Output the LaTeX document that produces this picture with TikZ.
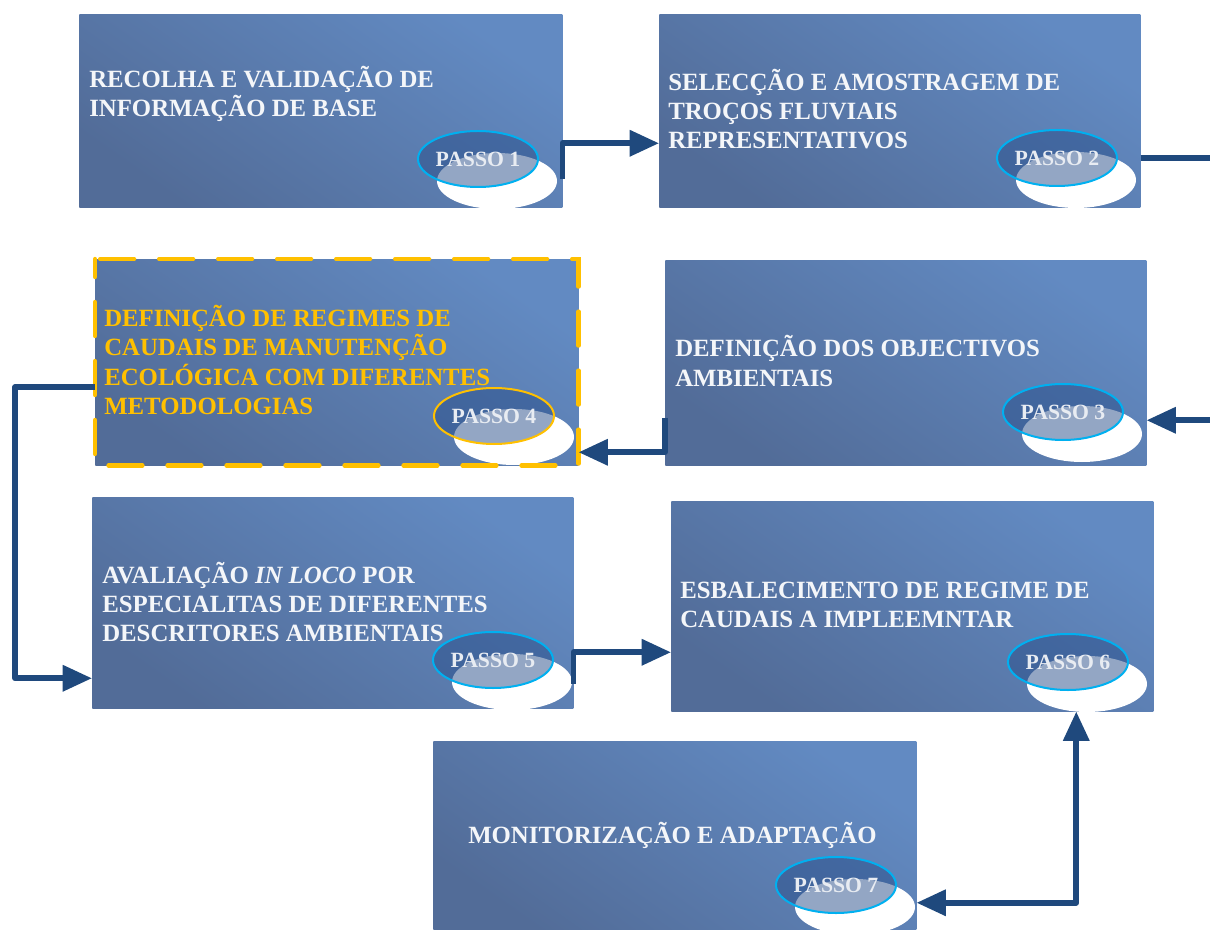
\documentclass[tikz,border=0pt]{standalone}
\usepackage{fontspec}
\setmainfont{Liberation Serif}
\usetikzlibrary{arrows.meta,calc,shapes.geometric}

\definecolor{boxlight}{RGB}{98,138,194}
\definecolor{boxdark}{RGB}{82,108,152}
\definecolor{flowblue}{RGB}{31,73,125}
\definecolor{ringcyan}{RGB}{0,176,240}
\definecolor{ringfill}{RGB}{40,78,138}
\definecolor{gold}{RGB}{255,192,0}
\definecolor{passotext}{RGB}{232,236,242}
\definecolor{labeltext}{RGB}{244,246,249}

\tikzset{
  stepbox/.style={rectangle, anchor=north west, inner sep=0pt, draw=none,
    top color=boxlight, bottom color=boxdark, shading angle=-35},
  steptext/.style={anchor=west, align=left, inner sep=0pt, text=labeltext,
    font=\fontsize{18.6}{22}\selectfont\bfseries},
  passo/.style={ellipse, inner sep=0pt, minimum width=90pt, minimum height=42pt,
    draw=ringcyan, line width=1.5pt, fill=ringfill, fill opacity=0.5, text opacity=1,
    text=passotext, font=\fontsize{16.3}{18}\selectfont\bfseries},
  flowtip/.tip={Triangle[length=22pt,width=19pt]},
  flow/.style={draw=flowblue, line width=4.2pt, line join=round, -flowtip},
}

% white ellipse under each step label, cut to its box
\newcommand{\shadowdisc}[2]{%
  \begin{scope}
    \clip (#1.south west) rectangle (#1.north east);
    \fill[white] #2 ellipse [x radius=45pt, y radius=21pt];
  \end{scope}}

\begin{document}
\begin{tikzpicture}[x=0.75pt,y=-0.75pt]
\useasboundingbox (0,0) rectangle (1210,930);
\clip (0,0) rectangle (1210,930);

% step boxes
\node[stepbox, minimum width=362.25pt, minimum height=144.75pt] (b1) at (79,14) {};
\node[stepbox, minimum width=360.75pt, minimum height=144.75pt] (b2) at (659,14) {};
\node[stepbox, minimum width=360.75pt, minimum height=153.75pt] (b3) at (665,260) {};
\node[stepbox, minimum width=362.25pt, minimum height=154.5pt] (b4) at (95,259) {};
\node[stepbox, minimum width=360.75pt, minimum height=158.25pt] (b5) at (92,497) {};
\node[stepbox, minimum width=361.5pt, minimum height=157.5pt] (b6) at (671,501) {};
\node[stepbox, minimum width=362.25pt, minimum height=142.5pt] (b7) at (433,741) {};

% step labels
\shadowdisc{b1}{(497,181)}
\node[passo] (p1) at (478,159) {PASSO 1};
\shadowdisc{b2}{(1076,180)}
\node[passo] (p2) at (1057,158) {PASSO 2};
\shadowdisc{b3}{(1082,434)}
\node[passo] (p3) at (1063,412) {PASSO 3};
\shadowdisc{b4}{(514,437)}
\node[passo, draw=gold] (p4) at (494,416) {PASSO 4};
\shadowdisc{b5}{(512,682)}
\node[passo] (p5) at (493,660) {PASSO 5};
\shadowdisc{b6}{(1087,684)}
\node[passo] (p6) at (1068,662) {PASSO 6};
\shadowdisc{b7}{(855,907)}
\node[passo] (p7) at (836,885) {PASSO 7};

% highlighted step
\draw[gold, line width=3.2pt, line cap=round, dash pattern=on 25.5pt off 18.75pt, dash phase=12pt]
  (b4.north west) rectangle (b4.south east);

% step texts
\node[steptext] (t1) at (89,94) {RECOLHA E VALIDAÇÃO DE\\INFORMAÇÃO DE BASE};
\node[steptext] (t2) at (668,109) {SELECÇÃO E AMOSTRAGEM DE\\TROÇOS FLUVIAIS\\REPRESENTATIVOS};
\node[steptext] (t3) at (675,361) {DEFINIÇÃO DOS OBJECTIVOS\\AMBIENTAIS};
\node[steptext, text=gold] (t4) at (104,360) {DEFINIÇÃO DE REGIMES DE\\CAUDAIS DE MANUTENÇÃO\\ECOLÓGICA COM DIFERENTES\\METODOLOGIAS};
\node[steptext] (t5) at (102,602) {AVALIAÇÃO \textit{IN LOCO} POR\\ESPECIALITAS DE DIFERENTES\\DESCRITORES AMBIENTAIS};
\node[steptext] (t6) at (680,605) {ESBALECIMENTO DE REGIME DE\\CAUDAIS A IMPLEEMNTAR};
\node[steptext] (t7) at (468,835) {MONITORIZAÇÃO E ADAPTAÇÃO};

% connectors
\draw[flow] ($(b1.south east)+(0,-29)$) |- ($(b2.west)+(0,32.5)$);
\draw[flow] ($(b2.east)+(0,47.5)$) -- ++(90,0) |- ($(b3.east)+(0,57.5)$);
\draw[flow] ($(b3.west)+(0,55)$) |- ($(b4.east)+(0,90)$);
\draw[flow] ($(b4.west)+(0,25)$) -- ++(-80,0) |- ($(b5.west)+(0,75.5)$);
\draw[flow] ($(b5.south east)+(0,-25)$) |- ($(b6.west)+(0,46)$);
\draw[flow, flowtip-flowtip]
  ($(b7.east)+(0,66.5)$) -| ($(b6.south)+(164,0)$);
\end{tikzpicture}
\end{document}
